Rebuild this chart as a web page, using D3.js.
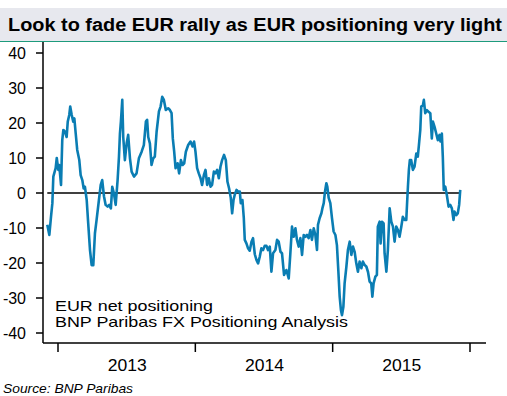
<!DOCTYPE html>
<html>
<head>
    <meta charset="utf-8">
    <script src="https://d3js.org/d3.v7.min.js"></script>
    <style>
        body { margin: 0; background: #fff; }
        text { font-family: 'Liberation Sans', Arial, sans-serif; fill: #000; }
    </style>
</head>
<body>
<div id="chart"></div>
<script>
    // time in decimal years, EUR net positioning
    var years = [2012.922, 2012.937, 2012.949, 2012.959, 2012.966, 2012.983, 2012.991, 2013.002, 2013.009, 2013.022,
        2013.031, 2013.039, 2013.051, 2013.063, 2013.071, 2013.082, 2013.089, 2013.100, 2013.111, 2013.119,
        2013.129, 2013.140, 2013.155, 2013.165, 2013.177, 2013.187, 2013.196, 2013.209, 2013.220, 2013.233,
        2013.245, 2013.257, 2013.269, 2013.281, 2013.298, 2013.311, 2013.322, 2013.335, 2013.347, 2013.361,
        2013.373, 2013.385, 2013.395, 2013.407, 2013.420, 2013.434, 2013.444, 2013.451, 2013.458, 2013.468,
        2013.475, 2013.487, 2013.500, 2013.511, 2013.524, 2013.536, 2013.553, 2013.572, 2013.589, 2013.609,
        2013.625, 2013.640, 2013.649, 2013.657, 2013.669, 2013.681, 2013.693, 2013.705, 2013.718, 2013.735,
        2013.747, 2013.759, 2013.771, 2013.785, 2013.802, 2013.815, 2013.827, 2013.836, 2013.846, 2013.856,
        2013.871, 2013.882, 2013.895, 2013.907, 2013.919, 2013.931, 2013.948, 2013.965, 2013.980, 2013.991,
        2014.001, 2014.013, 2014.025, 2014.038, 2014.049, 2014.062, 2014.074, 2014.086, 2014.098, 2014.111,
        2014.122, 2014.135, 2014.147, 2014.159, 2014.171, 2014.183, 2014.195, 2014.209, 2014.222, 2014.234,
        2014.246, 2014.258, 2014.268, 2014.278, 2014.287, 2014.300, 2014.311, 2014.324, 2014.331, 2014.343,
        2014.353, 2014.360, 2014.372, 2014.384, 2014.396, 2014.409, 2014.420, 2014.433, 2014.445, 2014.457,
        2014.469, 2014.481, 2014.493, 2014.505, 2014.518, 2014.529, 2014.542, 2014.554, 2014.566, 2014.583,
        2014.595, 2014.607, 2014.620, 2014.631, 2014.646, 2014.663, 2014.680, 2014.692, 2014.704, 2014.716,
        2014.729, 2014.740, 2014.753, 2014.765, 2014.777, 2014.789, 2014.801, 2014.813, 2014.825, 2014.838,
        2014.849, 2014.862, 2014.874, 2014.886, 2014.893, 2014.905, 2014.918, 2014.925, 2014.935, 2014.944,
        2014.954, 2014.961, 2014.971, 2014.983, 2014.995, 2015.007, 2015.020, 2015.031, 2015.041, 2015.051,
        2015.060, 2015.068, 2015.078, 2015.087, 2015.100, 2015.111, 2015.124, 2015.136, 2015.148, 2015.160,
        2015.172, 2015.184, 2015.196, 2015.209, 2015.220, 2015.233, 2015.245, 2015.257, 2015.269, 2015.281,
        2015.289, 2015.298, 2015.311, 2015.322, 2015.329, 2015.342, 2015.349, 2015.359, 2015.371, 2015.378,
        2015.391, 2015.402, 2015.415, 2015.427, 2015.439, 2015.451, 2015.463, 2015.475, 2015.487, 2015.500,
        2015.511, 2015.524, 2015.536, 2015.543, 2015.548, 2015.555, 2015.562, 2015.572, 2015.584, 2015.596,
        2015.609, 2015.620, 2015.628, 2015.638, 2015.645, 2015.657, 2015.664, 2015.674, 2015.686, 2015.698,
        2015.711, 2015.722, 2015.730, 2015.742, 2015.754, 2015.766, 2015.778, 2015.785, 2015.795, 2015.802,
        2015.809, 2015.820, 2015.831, 2015.844, 2015.856, 2015.868, 2015.880, 2015.887, 2015.900, 2015.911,
        2015.921, 2015.929];

    var positioning = [-9.1, -12, -6.8, -2.9, 4.7, 7.1, 10, 6.6, 8, 2.3,
        15.1, 18, 17.5, 16, 20.4, 22.3, 24.7, 22.3, 20.4, 21.3,
        17, 12.3, 9.4, 5.1, 3.7, 1.3, 1.8, -2, -8.7, -16.3,
        -20.6, -20.6, -11.5, -7.7, -2, 2.3, 3.7, -1, -3.4, -3.9,
        -3.4, -4.4, 1.8, -0.1, -3.4, 3.7, 10.4, 17, 20.4, 26.6,
        16, 9.4, 14.2, 16.6, 9.9, 6.1, 4.7, 5.6, 9.9, 11.8,
        13.7, 20.4, 20.9, 16, 14.2, 8, 9.9, 10.4, 17.5, 23.3,
        24.7, 27.5, 26.6, 23.7, 24.2, 23.7, 22.8, 15.6, 11.8, 7.1,
        8.5, 5.6, 9.4, 8, 8.5, 11.8, 13.7, 14.7, 13.3, 14.7,
        11.8, 7.1, 5.6, 4.2, 2.3, 5.1, 6.6, 2.3, 4.2, 1.8,
        2.3, 6.1, 5.6, 6.6, 4.2, 7.5, 9.4, 10.9, 9.4, 3.2,
        1.3, -1.4, -5.8, -2, -0.5, 0.9, 0.4, 0.4, -2.9, -2,
        -7.2, -13.4, -14.4, -15.8, -16.5, -13.9, -12.9, -17.5, -19.1, -20.1,
        -18.2, -15.8, -16.3, -15.1, -15.1, -16.3, -15.3, -22.5, -17.2, -16.3,
        -13.4, -13.9, -16.8, -17.2, -23.4, -22, -24.4, -17.2, -9.6, -12.5,
        -10.1, -13.4, -15.3, -12.9, -17.7, -12, -12.5, -12, -12.9, -10.6,
        -13.4, -10.1, -12, -16.3, -9.1, -7.2, -5.8, -4.4, -2.9, 0.4,
        2.8, 1.8, -1.4, -2.9, -7.2, -11, -12, -14.9, -22, -29.6,
        -33.4, -34.9, -32.5, -25.8, -21, -16.3, -13.9, -17.7, -15.3, -16.8,
        -20.1, -22.5, -19.6, -21.5, -19.6, -20.6, -21, -22.5, -25.3, -25.8,
        -29.6, -25.8, -23.9, -23.4, -9.6, -8.2, -14.4, -8.2, -8.7, -17.2,
        -22.5, -16.3, -4.4, -8.2, -9.6, -13.9, -9.6, -10.6, -12.5, -9.6,
        -6.8, -7.7, -7.7, -2, 1.8, 6.6, 9.4, 9.4, 6.6, 7.5,
        11.3, 10.4, 13.7, 18, 24.7, 25.1, 26.6, 22.8, 23.7, 23.2,
        22.8, 15.6, 20.4, 18.9, 17, 15.1, 16.6, 14.7, 17, 10.4,
        0.9, 1.8, -0.5, -3.9, -3.4, -4.4, -7.7, -5.3, -6.3, -5.8,
        -3.4, 0.9];

    var yTicks = [40, 30, 20, 10, 0, -10, -20, -30, -40];
    var yearTicks = [2013, 2014, 2015, 2016];
    var yearLabels = ["2013", "2014", "2015"];

    var title = "Look to fade EUR rally as EUR positioning very light";
    var legendLines = ["EUR net positioning", "BNP Paribas FX Positioning Analysis"];
    var source = "Source: BNP Paribas";

    var width = 507, height = 396;

    var svg = d3.select("#chart").append("svg")
        .attr("width", width)
        .attr("height", height);

    // title band
    svg.append("rect")
        .attr("x", 0).attr("y", 8)
        .attr("width", width).attr("height", 33)
        .attr("fill", "#e7e8ee");
    svg.append("line")
        .attr("x1", 0).attr("x2", width)
        .attr("y1", 41.5).attr("y2", 41.5)
        .attr("stroke", "#1d9b7c").attr("stroke-width", 1);
    svg.append("text")
        .attr("x", 8).attr("y", 31)
        .attr("textLength", 494)
        .attr("lengthAdjust", "spacingAndGlyphs")
        .style("font-size", "18px")
        .style("font-weight", "bold")
        .text(title);

    var x = d3.scaleLinear().domain([2013, 2016]).range([58, 470]);
    var y = d3.scaleLinear().domain([-40, 40]).range([333, 53]);

    var axisX = 43, axisY = 343;

    // y axis
    svg.append("line")
        .attr("x1", axisX).attr("x2", axisX)
        .attr("y1", 42).attr("y2", axisY)
        .attr("stroke", "#000").attr("stroke-width", 1.5);
    var yt = svg.selectAll(".ytick").data(yTicks).enter().append("g")
        .attr("transform", d => "translate(0," + y(d) + ")");
    yt.append("line")
        .attr("x1", 36).attr("x2", axisX)
        .attr("stroke", "#000").attr("stroke-width", 1.5);
    yt.append("text")
        .attr("x", 26).attr("dy", "0.36em")
        .attr("text-anchor", "end")
        .style("font-size", "16px")
        .text(d => d);

    // x axis
    svg.append("line")
        .attr("x1", axisX).attr("x2", 486)
        .attr("y1", axisY).attr("y2", axisY)
        .attr("stroke", "#000").attr("stroke-width", 1.5);
    svg.selectAll(".xtick").data(yearTicks).enter().append("line")
        .attr("x1", d => x(d)).attr("x2", d => x(d))
        .attr("y1", axisY).attr("y2", 352)
        .attr("stroke", "#000").attr("stroke-width", 1.5);
    svg.selectAll(".xlabel").data(yearLabels).enter().append("text")
        .attr("x", d => x(+d + 0.5) - 19)
        .attr("y", 371)
        .attr("textLength", 39)
        .attr("lengthAdjust", "spacingAndGlyphs")
        .style("font-size", "16.5px")
        .text(d => d);

    // zero line
    svg.append("line")
        .attr("x1", x(years[0])).attr("x2", x(years[years.length - 1]))
        .attr("y1", y(0)).attr("y2", y(0))
        .attr("stroke", "#000").attr("stroke-width", 1.5);

    var data = years.map((t, i) => ({ t: t, v: positioning[i] }));

    var line = d3.line()
        .x(d => x(d.t))
        .y(d => y(d.v));

    svg.append("path")
        .datum(data)
        .attr("d", line)
        .attr("fill", "none")
        .attr("stroke", "#0a7db3")
        .attr("stroke-width", 2.6)
        .attr("stroke-linejoin", "round");

    // legend text, drawn a little wide as in the original
    var legendWidths = [158, 293];
    svg.selectAll(".legend").data(legendLines).enter().append("text")
        .attr("x", 55)
        .attr("y", (d, i) => 311 + i * 16)
        .attr("textLength", (d, i) => legendWidths[i])
        .attr("lengthAdjust", "spacingAndGlyphs")
        .style("font-size", "15px")
        .text(d => d);

    svg.append("text")
        .attr("x", 3).attr("y", 393)
        .attr("textLength", 130)
        .attr("lengthAdjust", "spacingAndGlyphs")
        .style("font-size", "13px")
        .style("font-style", "italic")
        .text(source);
</script>
</body>
</html>
